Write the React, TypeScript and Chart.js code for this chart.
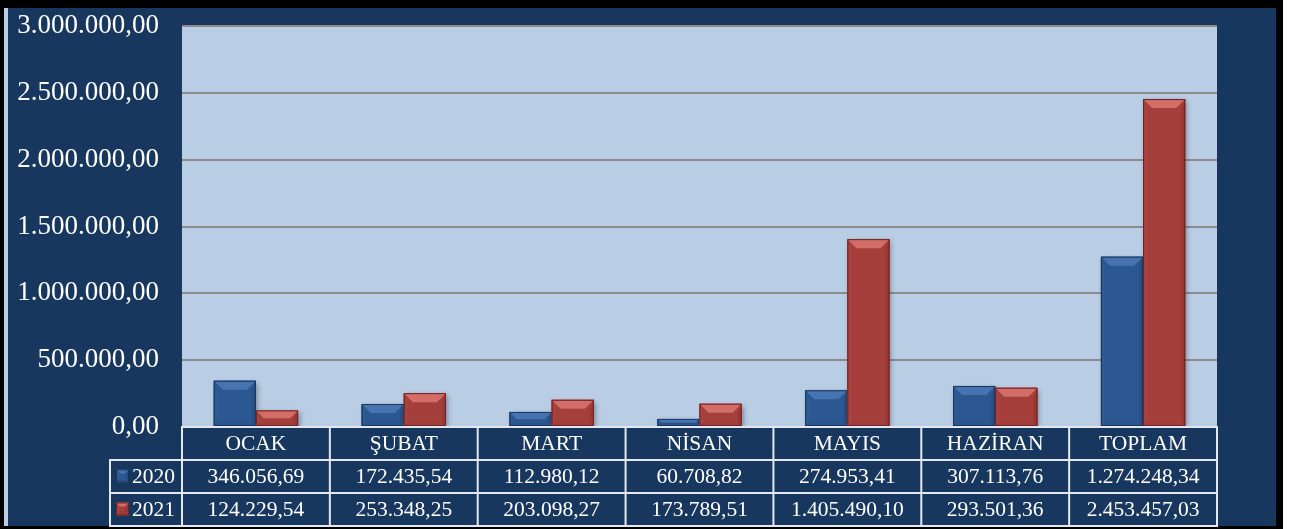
import React, { useEffect, useRef } from "react";
import { Chart, registerables } from "chart.js";

Chart.register(...registerables);

const categories = ["OCAK", "ŞUBAT", "MART", "NİSAN", "MAYIS", "HAZİRAN", "TOPLAM"];
const seriesNames = ["2020", "2021"];
const values2020 = [346056.69, 172435.54, 112980.12, 60708.82, 274953.41, 307113.76, 1274248.34];
const values2021 = [124229.54, 253348.25, 203098.27, 173789.51, 1405490.1, 293501.36, 2453457.03];
const yTicks = [0, 500000, 1000000, 1500000, 2000000, 2500000, 3000000];

const W = 1293;
const H = 529;

const palette = [
  { body: "#2c5891", top: "#4774b0", left: "#2e5a94", right: "#274f85", bottom: "#2a548c", edge: "#18355c" },
  { body: "#a53f3c", top: "#d36d68", left: "#a9433f", right: "#963835", bottom: "#a03d3a", edge: "#6e2422" },
];

function fmt(v: number): string {
  const [i, d] = v.toFixed(2).split(".");
  return i.replace(/\B(?=(\d{3})+(?!\d))/g, ".") + "," + d;
}

function poly(ctx: CanvasRenderingContext2D, pts: number[][], color: string) {
  ctx.beginPath();
  ctx.moveTo(pts[0][0], pts[0][1]);
  for (let k = 1; k < pts.length; k++) ctx.lineTo(pts[k][0], pts[k][1]);
  ctx.closePath();
  ctx.fillStyle = color;
  ctx.fill();
}

function drawBevel(ctx: CanvasRenderingContext2D, l: number, t: number, r: number, b: number, c: any, maxBevel: number) {
  const w = r - l;
  const h = b - t;
  if (h <= 0) return;
  const bv = Math.min(maxBevel, h / 2, w / 3);
  const sv = Math.min(4, bv);
  poly(ctx, [[l, t], [r, t], [r, b], [l, b]], c.body);
  poly(ctx, [[l, b], [l + sv, b - sv], [r - sv, b - sv], [r, b]], c.bottom);
  poly(ctx, [[r, t], [r - sv, t + bv], [r - sv, b - sv], [r, b]], c.right);
  poly(ctx, [[l, t], [l + sv, t + bv], [l + sv, b - sv], [l, b]], c.left);
  poly(ctx, [[l, t], [r, t], [r - bv, t + bv], [l + bv, t + bv]], c.top);
  ctx.strokeStyle = c.edge;
  ctx.lineWidth = 1;
  ctx.strokeRect(l + 0.5, t + 0.5, w - 1, h - 1);
}

const framePlugin = {
  id: "frame",
  beforeDraw(chart: any) {
    const ctx = chart.ctx as CanvasRenderingContext2D;
    const a = chart.chartArea;
    ctx.save();
    ctx.fillStyle = "#ffffff";
    ctx.fillRect(0, 0, W, H);
    ctx.fillStyle = "#000000";
    ctx.fillRect(0, 0, 1283, H);
    ctx.fillStyle = "#b9cde5";
    ctx.fillRect(4, 8, 4, 518);
    ctx.fillStyle = "#17375e";
    ctx.fillRect(8, 8, 1268, 518);
    ctx.fillStyle = "#b9cde5";
    ctx.fillRect(a.left, a.top, a.right - a.left, a.bottom - a.top);
    ctx.restore();
  },
  beforeDatasetsDraw(chart: any) {
    const ctx = chart.ctx as CanvasRenderingContext2D;
    ctx.save();
    ctx.shadowColor = "rgba(0,0,0,0.35)";
    ctx.shadowBlur = 5;
    ctx.shadowOffsetX = 2;
    ctx.shadowOffsetY = 2;
  },
  afterDatasetsDraw(chart: any) {
    const ctx = chart.ctx as CanvasRenderingContext2D;
    ctx.restore();
    chart.data.datasets.forEach((ds: any, di: number) => {
      const meta = chart.getDatasetMeta(di);
      meta.data.forEach((el: any) => {
        const p = el.getProps(["x", "y", "base", "width"], true);
        drawBevel(ctx, p.x - p.width / 2, Math.min(p.y, p.base), p.x + p.width / 2, Math.max(p.y, p.base), palette[di], 9);
      });
    });
  },
  afterDraw(chart: any) {
    const ctx = chart.ctx as CanvasRenderingContext2D;
    const a = chart.chartArea;
    const xs = chart.scales.x;
    const n = categories.length;
    const colW = (a.right - a.left) / n;
    const rowH = 33;
    const y0 = a.bottom;
    const legendLeft = 110;
    ctx.save();
    ctx.fillStyle = "#17375e";
    ctx.fillRect(a.left, y0, a.right - a.left, rowH * 3);
    ctx.fillRect(legendLeft, y0 + rowH, a.left - legendLeft, rowH * 2);
    ctx.strokeStyle = "#e4e8ee";
    ctx.lineWidth = 2;
    ctx.beginPath();
    ctx.moveTo(a.left - 1, y0);
    ctx.lineTo(a.right + 1, y0);
    for (let r = 1; r <= 3; r++) {
      ctx.moveTo(legendLeft - 1, y0 + r * rowH);
      ctx.lineTo(a.right + 1, y0 + r * rowH);
    }
    for (let c = 0; c <= n; c++) {
      const x = a.left + c * colW;
      ctx.moveTo(x, y0);
      ctx.lineTo(x, y0 + 3 * rowH);
    }
    ctx.moveTo(legendLeft, y0 + rowH);
    ctx.lineTo(legendLeft, y0 + 3 * rowH);
    ctx.stroke();

    ctx.fillStyle = "#ffffff";
    ctx.font = "21.5px 'Liberation Serif', 'Times New Roman', serif";
    ctx.textAlign = "center";
    ctx.textBaseline = "middle";
    const rows = [values2020, values2021];
    for (let i = 0; i < n; i++) {
      const cx = xs.getPixelForValue(i);
      ctx.fillText(categories[i], cx, y0 + rowH / 2 + 1);
      rows.forEach((vals, ri) => {
        ctx.fillText(fmt(vals[i]), cx, y0 + rowH * (ri + 1) + rowH / 2 + 1);
      });
    }
    seriesNames.forEach((name, ri) => {
      const cy = y0 + rowH * (ri + 1) + rowH / 2;
      drawBevel(ctx, legendLeft + 6, cy - 7, legendLeft + 19, cy + 6, palette[ri], 4);
      ctx.fillStyle = "#ffffff";
      ctx.textAlign = "left";
      ctx.fillText(name, legendLeft + 22, cy + 1);
    });
    ctx.restore();
  },
};

export default function App() {
  const ref = useRef<HTMLCanvasElement | null>(null);
  useEffect(() => {
    document.body.style.margin = "0";
    const canvas = ref.current;
    if (!canvas) return;
    const chart = new Chart(canvas, {
      type: "bar",
      data: {
        labels: categories,
        datasets: [
          { label: seriesNames[0], data: values2020, backgroundColor: palette[0].body, borderWidth: 0 },
          { label: seriesNames[1], data: values2021, backgroundColor: palette[1].body, borderWidth: 0 },
        ],
      },
      options: {
        animation: false,
        responsive: false,
        events: [],
        layout: { padding: { top: 26, right: 76, bottom: 102, left: 0 } },
        datasets: { bar: { categoryPercentage: 0.57, barPercentage: 1 } },
        plugins: { legend: { display: false }, tooltip: { enabled: false } },
        scales: {
          x: { display: false, offset: true, grid: { display: false } },
          y: {
            min: 0,
            max: 3000000,
            afterFit: (s: any) => {
              s.width = 182;
              s.paddingTop = 0;
              s.paddingBottom = 0;
            },
            afterBuildTicks: (s: any) => {
              s.ticks = yTicks.map((v) => ({ value: v }));
            },
            border: { display: false },
            grid: { color: "#8c8c8c", lineWidth: 2, drawTicks: false },
            ticks: {
              color: "#ffffff",
              padding: 23,
              font: { family: "'Liberation Serif', 'Times New Roman', serif", size: 27 },
              callback: (v: any) => fmt(Number(v)),
            },
          },
        },
      },
      plugins: [framePlugin],
    });
    return () => chart.destroy();
  }, []);
  return (
    <div style={{ width: W, height: H }}>
      <canvas ref={ref} width={W} height={H} style={{ display: "block", width: W, height: H }} />
    </div>
  );
}
